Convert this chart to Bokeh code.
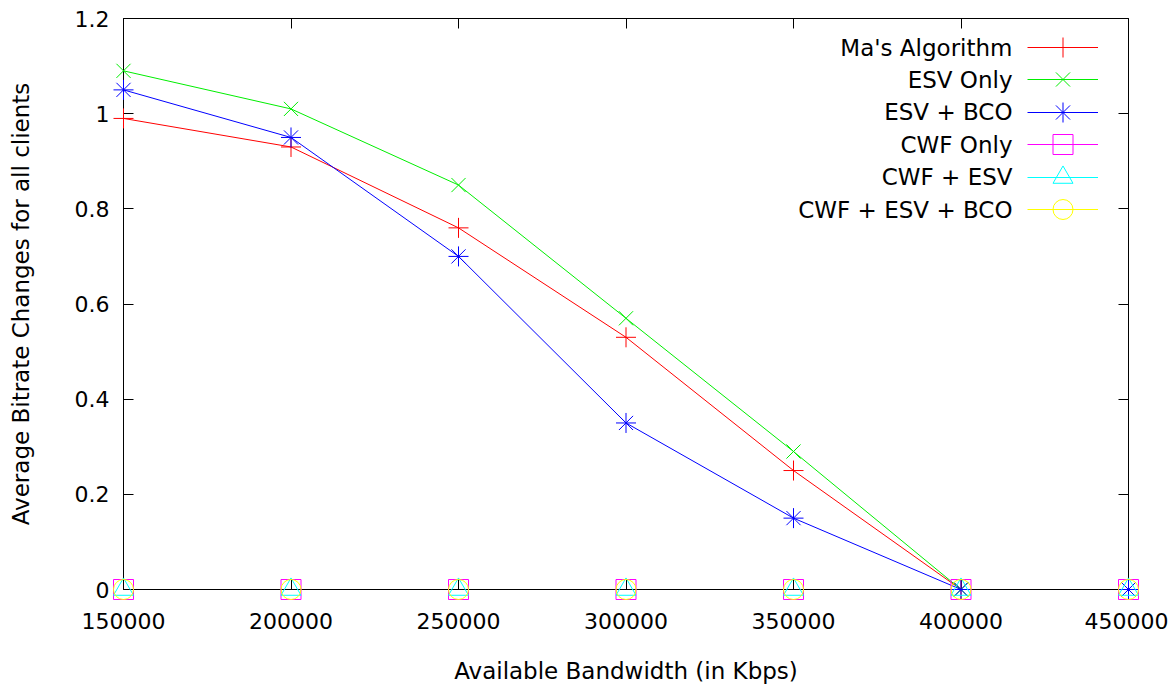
from bokeh.plotting import figure
from bokeh.models import (FixedTicker, LinearAxis, Legend, LegendItem, Label, Range1d,
                          BasicTickFormatter)
from bokeh.embed import file_html
from bokeh.resources import INLINE

# ---- data ----
bandwidth = [150000, 200000, 250000, 300000, 350000, 400000, 450000]
mas_algorithm = [0.99, 0.93, 0.76, 0.53, 0.25, 0.0, 0.0]
esv_only = [1.09, 1.01, 0.85, 0.57, 0.29, 0.0, 0.0]
esv_bco = [1.05, 0.95, 0.70, 0.35, 0.15, 0.0, 0.0]
cwf_only = [0.0, 0.0, 0.0, 0.0, 0.0, 0.0, 0.0]
cwf_esv = [0.0, 0.0, 0.0, 0.0, 0.0, 0.0, 0.0]
cwf_esv_bco = [0.0, 0.0, 0.0, 0.0, 0.0, 0.0, 0.0]

series_names = ["Ma's Algorithm", "ESV Only", "ESV + BCO", "CWF Only", "CWF + ESV", "CWF + ESV + BCO"]
series_values = [mas_algorithm, esv_only, esv_bco, cwf_only, cwf_esv, cwf_esv_bco]
series_colors = ["#ff0000", "#00ee00", "#0000ff", "#ff00ff", "#00ffff", "#ffff00"]
series_markers = ["cross", "x", "asterisk", "square", "triangle", "circle"]

x_ticks = [150000, 200000, 250000, 300000, 350000, 400000, 450000]
y_ticks = [0, 0.2, 0.4, 0.6, 0.8, 1.0, 1.2]
y_tick_labels = ["0", "0.2", "0.4", "0.6", "0.8", "1", "1.2"]

FONT = "DejaVu Sans"
TICK_FS = "22px"
LABEL_FS = "23px"

W, H = 1168, 687
BL, BR, BT, BB = 123, 40, 18, 98

p = figure(width=W, height=H, output_backend="svg", toolbar_location=None,
           x_range=Range1d(150000, 450000), y_range=Range1d(0, 1.2),
           min_border_left=BL, min_border_right=BR, min_border_top=BT, min_border_bottom=BB,
           x_axis_label="Available Bandwidth (in Kbps)",
           y_axis_label="Average Bitrate Changes for all clients")
p.background_fill_color = "white"
p.border_fill_color = "white"
p.outline_line_color = "black"
p.outline_line_width = 1
p.xgrid.visible = False
p.ygrid.visible = False

for ax in (p.xaxis[0], p.yaxis[0]):
    ax.major_tick_in = 10
    ax.major_tick_out = 0
    ax.minor_tick_line_color = None
    ax.axis_line_color = "black"
    ax.major_label_text_font = FONT
    ax.major_label_text_font_size = TICK_FS
    ax.major_label_text_color = "black"
    ax.axis_label_text_font = FONT
    ax.axis_label_text_font_size = LABEL_FS
    ax.axis_label_text_font_style = "normal"
    ax.axis_label_text_color = "black"

p.xaxis[0].ticker = FixedTicker(ticks=x_ticks)
p.xaxis[0].formatter = BasicTickFormatter(use_scientific=False)
p.xaxis[0].major_label_standoff = 23
p.xaxis[0].axis_label_standoff = 26
p.yaxis[0].ticker = FixedTicker(ticks=y_ticks)
p.yaxis[0].major_label_overrides = {t: l for t, l in zip(y_ticks, y_tick_labels)}
p.yaxis[0].major_label_standoff = 14
p.yaxis[0].axis_label_standoff = 38

# mirrored ticks on top and right
top = LinearAxis(ticker=FixedTicker(ticks=x_ticks), major_tick_in=10, major_tick_out=0,
                 minor_tick_line_color=None, axis_line_color=None,
                 major_label_text_font_size="0px", major_label_standoff=0)
top.major_label_overrides = {t: "" for t in x_ticks}
right = LinearAxis(ticker=FixedTicker(ticks=y_ticks), major_tick_in=10, major_tick_out=0,
                   minor_tick_line_color=None, axis_line_color=None,
                   major_label_text_font_size="0px", major_label_standoff=0)
right.major_label_overrides = {t: "" for t in y_ticks}
p.add_layout(top, "above")
p.add_layout(right, "right")

items = []
for name, vals, col, mk in zip(series_names, series_values, series_colors, series_markers):
    r_line = p.line(bandwidth, vals, line_color=col, line_width=1)
    r_pts = p.scatter(bandwidth, vals, marker=mk, size=20, line_color=col,
                      fill_color=None, line_width=1, level="overlay")
    items.append(LegendItem(label=" ", renderers=[r_line, r_pts]))

# legend samples (two interleaved legends so markers keep their size)
frame_h = 589 - 18
leg_kw = dict(glyph_width=71, glyph_height=50, label_height=50, label_width=1,
              label_standoff=0, spacing=15, padding=0, margin=0,
              border_line_color=None, background_fill_alpha=0,
              label_text_font_size="1px")
leg_a = Legend(items=items[0::2], location=(904, frame_h - 4 - 180), **leg_kw)
leg_b = Legend(items=items[1::2], location=(904, frame_h - 36 - 180), **leg_kw)
p.add_layout(leg_a, "center")
p.add_layout(leg_b, "center")

row_y = [47, 79, 111, 144, 176, 209]
for name, yy in zip(series_names, row_y):
    p.add_layout(Label(x=889, y=frame_h - (yy - 18), x_units="screen", y_units="screen",
                       text=name, text_align="right", text_baseline="middle",
                       text_font=FONT, text_font_size=LABEL_FS, text_color="black"))

open("out.html", "w").write(file_html(p, INLINE))
